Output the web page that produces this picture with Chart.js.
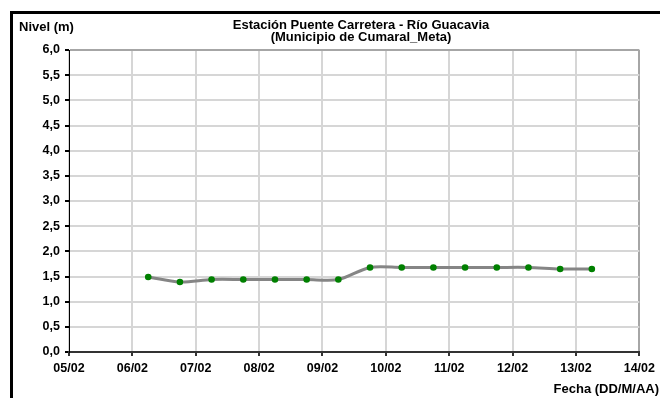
<!DOCTYPE html>
<html>
<head>
<meta charset="utf-8">
<script src="https://cdn.jsdelivr.net/npm/chart.js@4.4.0/dist/chart.umd.min.js"></script>
<style>
  html, body { margin: 0; padding: 0; background: #fff; }
  #wrap { position: relative; width: 660px; height: 398px; overflow: hidden; font-family: 'Liberation Sans', Arial, sans-serif; font-weight: bold; color: #000; }
  #marco { position: absolute; left: 10px; top: 11px; width: 700px; height: 420px; border-top: 3px solid #000; border-left: 3px solid #000; }
  #grafico { position: absolute; left: 0; top: 0; }
  .txt { position: absolute; font-size: 13px; line-height: 12px; white-space: nowrap; }
  #titulo { left: 361px; top: 19px; transform: translateX(-50%); text-align: center; }
  #ejeY { left: 19px; top: 21px; }
  #ejeX { right: 1px; top: 383px; }
</style>
</head>
<body>
<div id="wrap">
  <div id="marco"></div>
  <canvas id="grafico" width="660" height="398"></canvas>
  <div class="txt" id="titulo">Estación Puente Carretera - Río Guacavia<br>(Municipio de Cumaral_Meta)</div>
  <div class="txt" id="ejeY">Nivel (m)</div>
  <div class="txt" id="ejeX">Fecha (DD/M/AA)</div>
</div>
<script>
// lecturas cada 12 horas (DD/MM HH:MM)
const fechas = [
    '06/02 06:00', '06/02 18:00', '07/02 06:00', '07/02 18:00', '08/02 06:00',
    '08/02 18:00', '09/02 06:00', '09/02 18:00', '10/02 06:00', '10/02 18:00',
    '11/02 06:00', '11/02 18:00', '12/02 06:00', '12/02 18:00', '13/02 06:00'
];
const niveles = [1.49, 1.39, 1.44, 1.44, 1.44, 1.44, 1.44, 1.68, 1.68, 1.68, 1.68, 1.68, 1.68, 1.65, 1.65];
const diasEje = ['05/02', '06/02', '07/02', '08/02', '09/02', '10/02', '11/02', '12/02', '13/02', '14/02'];

const fuente = { family: "'Liberation Sans', Arial, sans-serif", size: 12.5, weight: 'bold' };

// fecha -> día con fracción de hora
function aDia(f) {
    const [d, h] = f.split(' ');
    const [hh, mm] = h.split(':').map(Number);
    return parseInt(d.split('/')[0], 10) + (hh + mm / 60) / 24;
}

const puntos = fechas.map((f, i) => ({ x: aDia(f), y: niveles[i] }));
const primerDia = parseInt(diasEje[0], 10);

const ctx = document.getElementById('grafico');
new Chart(ctx, {
    type: 'line',
    data: {
        datasets: [{
            data: puntos,
            borderColor: '#858585',
            borderWidth: 3,
            tension: 0.3,
            pointRadius: 3.3,
            pointBackgroundColor: '#008000',
            pointBorderColor: '#008000',
            pointBorderWidth: 0
        }]
    },
    options: {
        responsive: false,
        animation: false,
        layout: { padding: { top: 50, right: 20, left: 0, bottom: 0 } },
        plugins: { legend: { display: false }, tooltip: { enabled: false } },
        scales: {
            x: {
                type: 'linear',
                min: primerDia,
                max: primerDia + diasEje.length - 1,
                afterFit: (s) => { s.height = 46; },
                border: { color: '#333', width: 2 },
                grid: {
                    color: (c) => c.index === diasEje.length - 1 ? '#a6a6a6' : '#d6d6d6',
                    lineWidth: 2,
                    tickLength: 4,
                    tickColor: '#333'
                },
                ticks: {
                    stepSize: 1,
                    autoSkip: false,
                    maxRotation: 0,
                    padding: 5,
                    color: '#000',
                    font: fuente,
                    callback: (v) => diasEje[v - primerDia]
                }
            },
            y: {
                min: 0,
                max: 6,
                afterFit: (s) => { s.width = 69; },
                border: { color: '#000', width: 1 },
                grid: {
                    color: (c) => c.index === 12 ? '#a6a6a6' : '#d6d6d6',
                    lineWidth: 2,
                    tickLength: 4,
                    tickColor: '#000'
                },
                ticks: {
                    stepSize: 0.5,
                    padding: 5,
                    color: '#000',
                    font: fuente,
                    callback: (v) => v.toFixed(1).replace('.', ',')
                }
            }
        }
    }
});
</script>
</body>
</html>
